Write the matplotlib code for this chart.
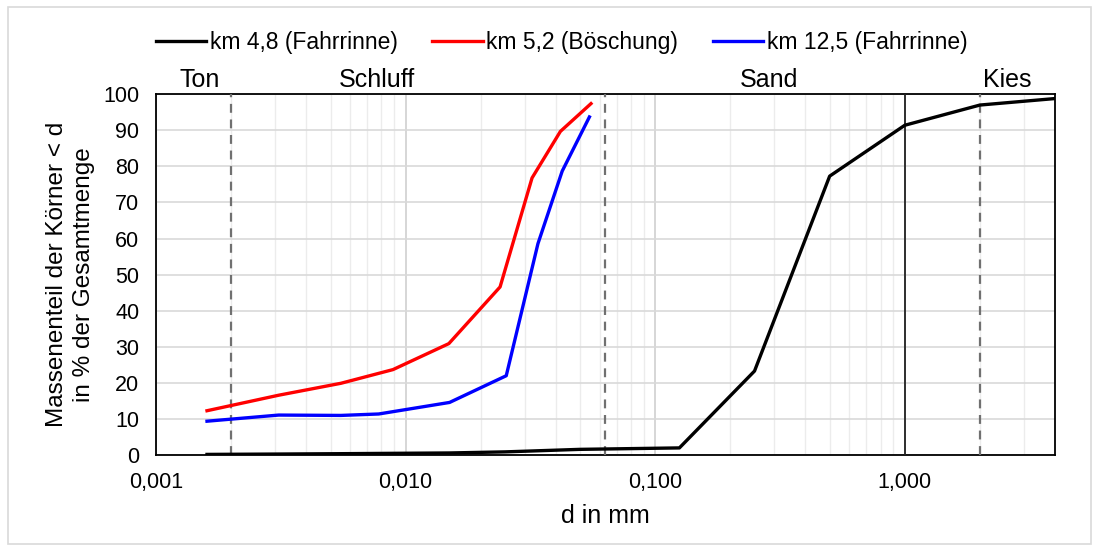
import numpy as np
import matplotlib.pyplot as plt
from matplotlib.patches import Rectangle
from matplotlib.ticker import FixedLocator, LogLocator, NullFormatter
import matplotlib.transforms as mtransforms

plt.rcParams['font.family'] = ['Liberation Sans', 'DejaVu Sans']

# Grain size distribution (d in mm, mass passing in %)
d_black = [0.0016, 0.0031, 0.0055, 0.0089, 0.015, 0.025, 0.05, 0.125, 0.25, 0.5, 1.0, 2.0, 4.0]
p_black = [0.2, 0.3, 0.4, 0.5, 0.6, 0.9, 1.6, 2.0, 23.3, 77.3, 91.4, 97.0, 98.8]

d_red = [0.0016, 0.0031, 0.0055, 0.0089, 0.0149, 0.0239, 0.0321, 0.0417, 0.0553]
p_red = [12.3, 16.6, 19.9, 23.7, 30.9, 46.6, 76.8, 89.7, 97.4]

d_blue = [0.0016, 0.0031, 0.0055, 0.0078, 0.015, 0.0253, 0.0339, 0.0424, 0.0545]
p_blue = [9.4, 11.1, 11.0, 11.4, 14.6, 22.0, 58.6, 78.7, 93.7]

labels = ['km 4,8 (Fahrrinne)', 'km 5,2 (Böschung)', 'km 12,5 (Fahrrinne)']

# soil class boundaries and names
bounds = [0.002, 0.063, 2.0]
classes = ['Ton', 'Schluff', 'Sand', 'Kies']
class_x = [0.0015, 0.0077, 0.286, 2.57]

xticks = [0.001, 0.01, 0.1, 1.0]
xticklabels = ['0,001', '0,010', '0,100', '1,000']

fig = plt.figure(figsize=(10.99, 5.51), dpi=100)
ax = fig.add_axes([0.142, 0.174, 0.818, 0.655])

ax.plot(d_black, p_black, color='black', lw=2.4, label=labels[0], zorder=5)
ax.plot(d_red, p_red, color='#ff0000', lw=2.4, label=labels[1], zorder=5)
ax.plot(d_blue, p_blue, color='#0000ff', lw=2.4, label=labels[2], zorder=5)

for b in bounds:
    ax.axvline(b, color='#707070', lw=1.6, ls=(0, (4, 3)), zorder=3)
ax.axvline(1.0, color='#222222', lw=1.3, zorder=3)

ax.set_xscale('log')
ax.set_xlim(0.001, 4.0)
ax.set_ylim(0, 100)
ax.set_yticks(np.arange(0, 101, 10))
ax.xaxis.set_major_locator(FixedLocator(xticks))
ax.set_xticklabels(xticklabels)
ax.xaxis.set_minor_locator(LogLocator(base=10, subs=np.arange(2, 10)))
ax.xaxis.set_minor_formatter(NullFormatter())

ax.grid(True, which='major', axis='y', color='#d9d9d9', lw=1.2, zorder=0)
ax.grid(True, which='major', axis='x', color='#cfcfcf', lw=1.2, zorder=0)
ax.grid(True, which='minor', axis='x', color='#ececec', lw=1.0, zorder=0)
ax.set_axisbelow(True)

ax.tick_params(axis='both', which='both', length=0, labelsize=15.5)
ax.tick_params(axis='y', pad=12)
ax.tick_params(axis='x', pad=12)
for s in ax.spines.values():
    s.set_linewidth(1.3)
    s.set_color('black')

ax.set_xlabel('d in mm', fontsize=18, labelpad=8)
ax.set_ylabel('Massenenteil der Körner < d\nin % der Gesamtmenge', fontsize=17.5, labelpad=6,
              linespacing=1.3)

trans = mtransforms.blended_transform_factory(ax.transData, ax.transAxes)
for name, xc in zip(classes, class_x):
    ax.text(xc, 1.04, name, transform=trans, ha='center', va='center', fontsize=18)

fig.legend(loc='center', bbox_to_anchor=(0.511, 0.922), ncol=3, frameon=False,
           fontsize=16.5, handlelength=2.2, columnspacing=1.5, handletextpad=0.17)

fig.patches.append(Rectangle((0.007, 0.013), 0.986, 0.974, transform=fig.transFigure,
                             fill=False, edgecolor='#d9d9d9', lw=1.2))

fig.savefig('out.png', dpi=100)
